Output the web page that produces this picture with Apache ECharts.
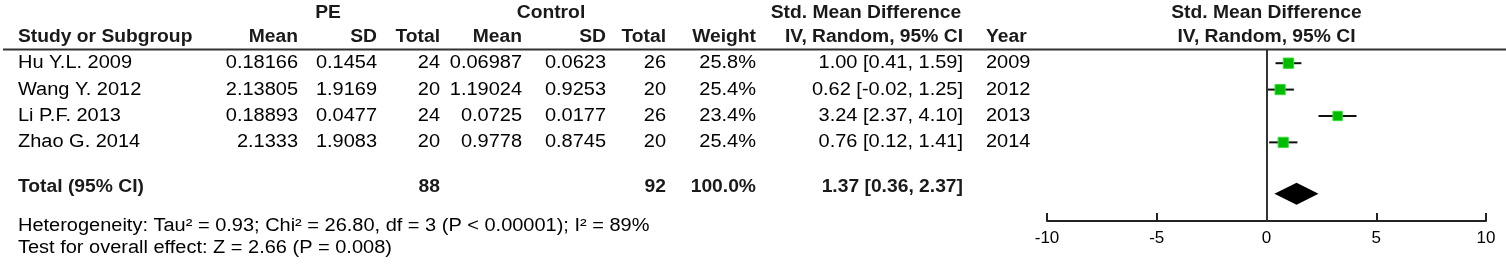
<!DOCTYPE html>
<html>
<head>
<meta charset="utf-8">
<script src="https://cdn.jsdelivr.net/npm/echarts@6/dist/echarts.min.js"></script>
<style>
  html, body { margin: 0; padding: 0; background: #fff; }
  #main { width: 1506px; height: 264px; }
</style>
</head>
<body>
<div id="main"></div>
<script>
// study data
var studies = ['Hu Y.L. 2009', 'Wang Y. 2012', 'Li P.F. 2013', 'Zhao G. 2014'];
var peMean = [0.18166, 2.13805, 0.18893, 2.1333];
var peSD = [0.1454, 1.9169, 0.0477, 1.9083];
var peN = [24, 20, 24, 20];
var ctlMean = [0.06987, 1.19024, 0.0725, 0.9778];
var ctlSD = [0.0623, 0.9253, 0.0177, 0.8745];
var ctlN = [26, 20, 26, 20];
var weights = [25.8, 25.4, 23.4, 25.4];
var smd = [1.00, 0.62, 3.24, 0.76];
var ciLow = [0.41, -0.02, 2.37, 0.12];
var ciHigh = [1.59, 1.25, 4.10, 1.41];
var years = [2009, 2012, 2013, 2014];

// pooled
var totalPE = 88;
var totalCtl = 92;
var totalWeight = 100.0;
var pooled = [1.37, 0.36, 2.37];
var heterogeneity = 'Heterogeneity: Tau\u00b2 = 0.93; Chi\u00b2 = 26.80, df = 3 (P < 0.00001); I\u00b2 = 89%';
var overall = 'Test for overall effect: Z = 2.66 (P = 0.008)';

var xTicks = [-10, -5, 0, 5, 10];

var FONT = "'Liberation Sans', Arial, sans-serif";
var SX_BOLD = 1.07;
var SX_PLAIN = 1.11;
var totalRow = 4.7;
var diamondRow = 4.95;

var chart = echarts.init(document.getElementById('main'));

var studyData = smd.map(function (v, i) {
    return [v, i, ciLow[i], ciHigh[i], weights[i]];
});

var option = {
    animation: false,
    grid: { left: 1047, right: 20, top: 50, bottom: 43 },
    xAxis: {
        type: 'value',
        position: 'bottom',
        min: xTicks[0],
        max: xTicks[xTicks.length - 1],
        interval: 5,
        splitLine: { show: false },
        axisLine: { onZero: false, lineStyle: { color: '#222', width: 2 } },
        axisTick: { inside: true, length: 8, lineStyle: { color: '#222', width: 2 } },
        axisLabel: { color: '#000', fontSize: 17, fontFamily: FONT, margin: 9 }
    },
    yAxis: {
        type: 'value',
        inverse: true,
        min: -0.5,
        max: 5.98,
        show: false
    },
    series: [
        {
            type: 'custom',
            data: studyData,
            renderItem: function (params, api) {
                var row = api.value(1);
                var c = api.coord([api.value(0), row]);
                var l = api.coord([api.value(2), row]);
                var h = api.coord([api.value(3), row]);
                var s = api.value(4) * 0.4;
                return {
                    type: 'group',
                    children: [
                        { type: 'line', shape: { x1: l[0], y1: l[1], x2: h[0], y2: h[1] },
                          style: { stroke: '#111', lineWidth: 2 } },
                        { type: 'rect', shape: { x: c[0] - s / 2, y: c[1] - s / 2, width: s, height: s },
                          style: { fill: '#00bb00', stroke: '#33dd33', lineWidth: 1 } }
                    ]
                };
            },
            markLine: {
                silent: true,
                symbol: 'none',
                label: { show: false },
                lineStyle: { color: '#333', type: 'solid', width: 2 },
                data: [{ xAxis: 0 }]
            }
        },
        {
            type: 'custom',
            data: [[pooled[0], diamondRow, pooled[1], pooled[2]]],
            renderItem: function (params, api) {
                var row = api.value(1);
                var c = api.coord([api.value(0), row]);
                var l = api.coord([api.value(2), row]);
                var h = api.coord([api.value(3), row]);
                var hh = 11;
                return {
                    type: 'polygon',
                    shape: { points: [[l[0], c[1]], [c[0], c[1] - hh], [h[0], c[1]], [c[0], c[1] + hh]] },
                    style: { fill: '#000' }
                };
            }
        }
    ]
};
chart.setOption(option);

function rowY(r) {
    return chart.convertToPixel({ yAxisIndex: 0 }, r);
}

var texts = [];
function addText(str, x, y, align, bold) {
    texts.push({
        type: 'text',
        x: x,
        y: y,
        scaleX: bold ? SX_BOLD : SX_PLAIN,
        silent: true,
        style: {
            text: String(str),
            x: 0,
            y: 0,
            font: (bold ? 'bold ' : '') + '18px ' + FONT,
            fill: bold ? '#1a1a1a' : '#000',
            textAlign: align,
            textVerticalAlign: 'middle',
            align: align,
            verticalAlign: 'middle'
        }
    });
}

// column positions
var colStudy = 18, colPEMean = 298, colPESD = 377, colPEN = 440;
var colCMean = 522, colCSD = 606, colCN = 666, colW = 756, colCI = 963, colYear = 986;
var plotMid = 1266.5;

// header
addText('PE', 328, 13, 'center', true);
addText('Control', 551, 13, 'center', true);
addText('Std. Mean Difference', 866, 13, 'center', true);
addText('Std. Mean Difference', plotMid, 13, 'center', true);
var hy = 37;
addText('Study or Subgroup', colStudy, hy, 'left', true);
addText('Mean', colPEMean, hy, 'right', true);
addText('SD', colPESD, hy, 'right', true);
addText('Total', colPEN, hy, 'right', true);
addText('Mean', colCMean, hy, 'right', true);
addText('SD', colCSD, hy, 'right', true);
addText('Total', colCN, hy, 'right', true);
addText('Weight', colW, hy, 'right', true);
addText('IV, Random, 95% CI', colCI, hy, 'right', true);
addText('Year', colYear, hy, 'left', true);
addText('IV, Random, 95% CI', plotMid, hy, 'center', true);

// rows
studies.forEach(function (name, i) {
    var y = rowY(i);
    addText(name, colStudy, y, 'left');
    addText(peMean[i], colPEMean, y, 'right');
    addText(peSD[i], colPESD, y, 'right');
    addText(peN[i], colPEN, y, 'right');
    addText(ctlMean[i], colCMean, y, 'right');
    addText(ctlSD[i], colCSD, y, 'right');
    addText(ctlN[i], colCN, y, 'right');
    addText(weights[i].toFixed(1) + '%', colW, y, 'right');
    addText(smd[i].toFixed(2) + ' [' + ciLow[i].toFixed(2) + ', ' + ciHigh[i].toFixed(2) + ']', colCI, y, 'right');
    addText(years[i], colYear, y, 'left');
});

// total
var ty = rowY(totalRow);
addText('Total (95% CI)', colStudy, ty, 'left', true);
addText(totalPE, colPEN, ty, 'right', true);
addText(totalCtl, colCN, ty, 'right', true);
addText(totalWeight.toFixed(1) + '%', colW, ty, 'right', true);
addText(pooled[0].toFixed(2) + ' [' + pooled[1].toFixed(2) + ', ' + pooled[2].toFixed(2) + ']', colCI, ty, 'right', true);
addText(heterogeneity, colStudy, 226, 'left');
addText(overall, colStudy, 248, 'left');

// header rule
texts.push({
    type: 'line',
    silent: true,
    shape: { x1: 3, y1: 49.5, x2: 1506, y2: 49.5 },
    style: { stroke: '#333', lineWidth: 2 }
});

chart.setOption({ graphic: texts });

window.onresize = function () {
    chart.resize();
};
</script>
</body>
</html>
